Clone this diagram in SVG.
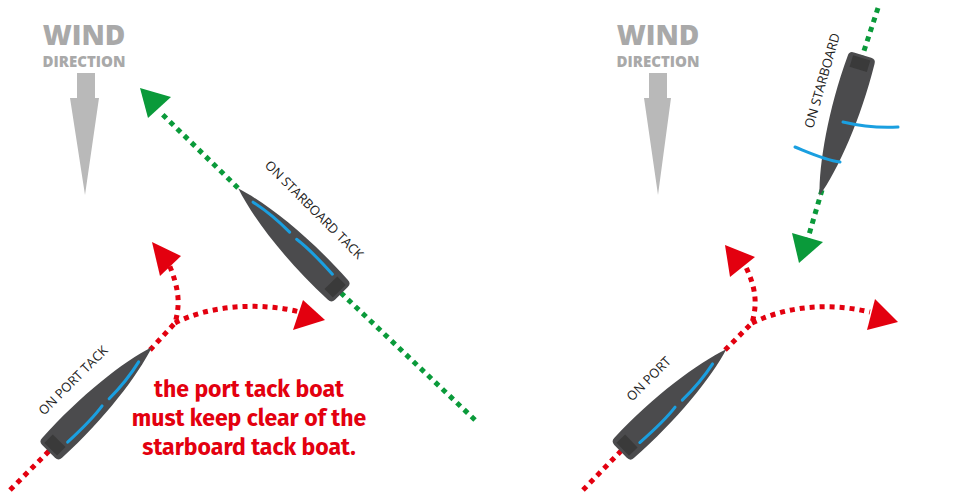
<svg xmlns="http://www.w3.org/2000/svg" width="972" height="500" viewBox="0 0 972 500">
<defs>
<style>
.wind{font-family:"Open Sans","Liberation Sans",sans-serif;font-weight:800;fill:#a9a9a9;text-anchor:middle}
.lbl{font-family:"Open Sans","Liberation Sans",sans-serif;font-size:13px;fill:#222}
.red{stroke:#e3000f;stroke-width:5;stroke-dasharray:5 5;fill:none}
.grn{stroke:#0a9a3a;stroke-width:5;stroke-dasharray:5 5;fill:none}
.hull{fill:#4b4b4d}
.sail{stroke:#1a9fe0;stroke-width:3;fill:none;stroke-linecap:round}
.msg{font-family:"Fira Sans","Open Sans","Liberation Sans",sans-serif;font-weight:700;font-size:23px;fill:#e3000f;text-anchor:middle}
</style>
<g id="boatShape">
<path class="hull" d="M3,-14 C60,-17 115,-10 145,0 C115,10 60,17 3,14 Q-2,14 -2,9 L-2,-9 Q-2,-14 3,-14 Z"/>
<rect x="1" y="-9" width="12" height="18" fill="#3a3a3a"/>
</g>
</defs>
<rect width="972" height="500" fill="#fff"/>

<g id="wind-left">
<text class="wind" x="84" y="45" font-size="28">WIND</text>
<text class="wind" x="84" y="67" font-size="15">DIRECTION</text>
<path d="M77,73 H95 V98 H99 L85,195 L70,98 H77 Z" fill="#b9b9b9"/>
</g>
<g id="wind-right">
<text class="wind" x="658" y="45" font-size="28">WIND</text>
<text class="wind" x="658" y="67" font-size="15">DIRECTION</text>
<path d="M649,73 H667 V98 H671 L658,195 L644,98 H649 Z" fill="#b9b9b9"/>
</g>

<g id="connectors">
<line class="grn" x1="475" y1="420" x2="340" y2="292"/>
<line class="grn" x1="238" y1="188" x2="160" y2="112"/>
<polygon points="140,88 171,97 148,118" fill="#0a9a3a"/>
<path class="red" d="M10,490 L50,450"/>
<path class="red" d="M150,350 L175,323 C180,305 180,290 168,262"/>
<polygon points="152,242 181,256 160,276" fill="#e3000f"/>
<path class="red" d="M175,323 C210,305 260,302 300,312"/>
<polygon points="303,300 325,320 293,330" fill="#e3000f"/>

<line class="grn" x1="878" y1="8" x2="862" y2="57"/>
<line class="grn" x1="822" y1="190" x2="806" y2="245"/>
<polygon points="792,233 823,242 799,263" fill="#0a9a3a"/>
<path class="red" d="M583,490 L622,450"/>
<path class="red" d="M725,350 L752,323 C757,305 757,290 745,265"/>
<polygon points="725,245 755,257 730,277" fill="#e3000f"/>
<path class="red" d="M752,323 C790,305 830,303 870,312"/>
<polygon points="875,299 898,322 867,330" fill="#e3000f"/>
</g>

<g id="boat-starboard-left" transform="translate(340,292) rotate(225.5)">
<use href="#boatShape"/>
<path class="sail" d="M18,7 C40,8 55,8 68,6"/>
<path class="sail" d="M78,6 C98,6 112,4 125,1"/>
</g>
<text class="lbl" transform="translate(264,166) rotate(45)">ON STARBOARD TACK</text>

<g id="boat-port-left" transform="translate(50,450) rotate(-45.3)">
<use href="#boatShape"/>
<path class="sail" d="M18,7 C40,8 55,8 68,6"/>
<path class="sail" d="M78,6 C98,6 112,4 125,1"/>
</g>
<text class="lbl" transform="translate(44,416) rotate(-45)">ON PORT TACK</text>

<g id="boat-port-right" transform="translate(622,450) rotate(-44)">
<use href="#boatShape"/>
<path class="sail" d="M18,7 C40,8 55,8 68,6"/>
<path class="sail" d="M78,6 C98,6 112,4 125,1"/>
</g>
<text class="lbl" transform="translate(632,402) rotate(-45)">ON PORT</text>

<g id="boat-starboard-right">
<g transform="translate(862,57) rotate(107)">
<use href="#boatShape"/>
</g>
<path class="sail" d="M795,147 C810,153 825,160 840,162"/>
<path class="sail" d="M843,122 C860,126 880,128 898,127"/>
</g>
<text class="lbl" transform="translate(813,129) rotate(-74)">ON STARBOARD</text>

<g id="message">
<text class="msg" x="249" y="397">the port tack boat</text>
<text class="msg" x="249" y="426">must keep clear of the</text>
<text class="msg" x="249" y="455">starboard tack boat.</text>
</g>
</svg>
